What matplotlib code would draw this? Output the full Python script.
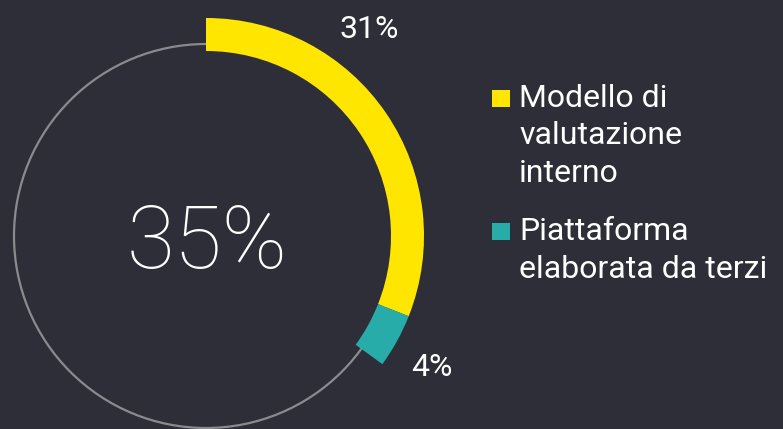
import matplotlib.pyplot as plt
from matplotlib.patches import Circle, Rectangle
from matplotlib import font_manager

# --- DATA ---
total_pct = 35
segment_labels = ['Modello di\nvalutazione\ninterno', 'Piattaforma\nelaborata da terzi']
segment_values = [31, 4]
segment_colors = ['#FFE600', '#27ACAA']

BG = '#2E2E38'
TEXT = '#FFFFFF'

names = {f.name for f in font_manager.fontManager.ttflist}
FONT = 'Roboto' if 'Roboto' in names else 'DejaVu Sans'

fig = plt.figure(figsize=(7.83, 4.29), dpi=100, facecolor=BG)
ax = fig.add_axes([0, 0, 1, 1])
ax.set_facecolor(BG)

cx, cy = 206, 429 - 236
r_out, ring_w = 218, 33

# thin background ring
ax.add_patch(Circle((cx, cy), 192, fill=False, edgecolor='#8A8A8F', linewidth=1.6, zorder=1))

# partial donut: 31% + 4% drawn clockwise from 12 o'clock
ax.pie([v / 100 for v in segment_values], colors=segment_colors, startangle=90,
       counterclock=False, normalize=False, center=(cx, cy), radius=r_out,
       wedgeprops=dict(width=ring_w, linewidth=0), frame=True)
ax.set_xlim(0, 783)
ax.set_ylim(0, 429)
ax.set_aspect('equal')
ax.axis('off')

# center number
ax.text(cx + 1, 429 - 268, f'{total_pct}%', color=TEXT, fontsize=63, family=FONT,
        fontweight='light', ha='center', va='baseline')

# segment value labels
ax.text(369, 429 - 38, f'{segment_values[0]}%', color=TEXT, fontsize=23, family=FONT,
        fontweight='normal', ha='center', va='baseline')
ax.text(432, 429 - 376, f'{segment_values[1]}%', color=TEXT, fontsize=23, family=FONT,
        fontweight='normal', ha='center', va='baseline')

# legend (square sits on the first line, text baseline given for the last line)
first_baselines = [105, 238]
last_baselines = [182, 278]
for first, last, lab, col in zip(first_baselines, last_baselines, segment_labels, segment_colors):
    ax.add_patch(Rectangle((492, 429 - first - 2), 18, 17, facecolor=col, edgecolor='none'))
    ax.text(519, 429 - last, lab, color=TEXT, fontsize=23, family=FONT,
            fontweight='normal', ha='left', va='baseline', linespacing=1.37)

fig.savefig('out.png', dpi=100, facecolor=BG)
